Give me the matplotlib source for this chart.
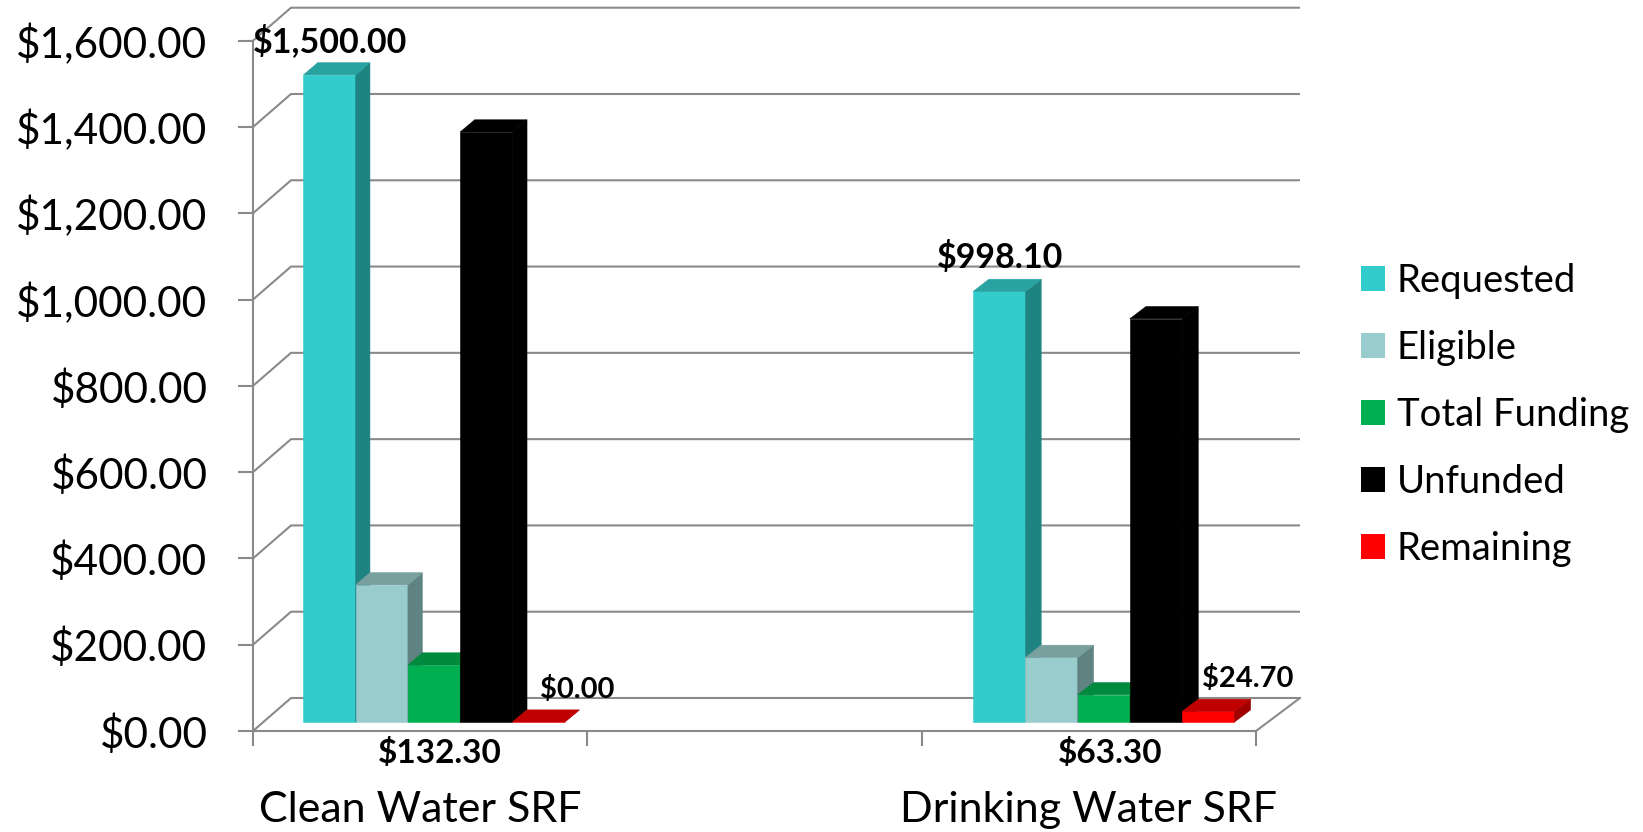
import math
import matplotlib
matplotlib.use("Agg")
import matplotlib.pyplot as plt
from matplotlib.patches import Polygon, Patch

plt.rcParams['font.family'] = ['Lato', 'DejaVu Sans']

# ---------------- data ----------------
categories = ["Clean Water SRF", "", "Drinking Water SRF"]
series = ["Requested", "Eligible", "Total Funding", "Unfunded", "Remaining"]
requested = [1500.00, math.nan, 998.10]
eligible = [318.00, math.nan, 150.00]
total_funding = [132.30, math.nan, 63.30]
unfunded = [1367.70, math.nan, 934.80]
remaining = [0.00, math.nan, 24.70]
yticks = [0, 200, 400, 600, 800, 1000, 1200, 1400, 1600]

values = [requested, eligible, total_funding, unfunded, remaining]
labelled = {"Requested", "Total Funding", "Remaining"}

# (front, top, side) colours
colors = {
    "Requested": ("#33CCCC", "#29A3A2", "#1F8382"),
    "Eligible": ("#99CCCC", "#77A09F", "#5F8382"),
    "Total Funding": ("#00B050", "#008A3E", "#006F33"),
    "Unfunded": ("#000000", "#000000", "#000000"),
    "Remaining": ("#FF0000", "#C00000", "#A00000"),
}
# label offsets (pixels) from top-front centre of bar
label_style = {
    "Requested": dict(dx=1, dy=34, size=24.5, base=False),
    "Total Funding": dict(dx=6, dy=-31, size=24, base=True),
    "Remaining": dict(dx=39, dy=33, size=21, base=False),
}

W, H = 1643, 832
fig = plt.figure(figsize=(W / 100, H / 100), dpi=100)
x_left, x_right, y_zero, y_top = 253, 1256, 731, 40.7
ax = fig.add_axes([x_left / W, (H - y_zero) / H,
                   (x_right - x_left) / W, (y_zero - y_top) / H])
ax.set_xlim(0, 3)
ax.set_ylim(0, 1600)

px_x = (x_right - x_left) / 3.0
px_y = (y_zero - y_top) / 1600.0
DXL = 38 / px_x
DXR = 44 / px_x
DY = 33 / px_y


def shift(x, y, f):
    dx = (DXL + (DXR - DXL) * x / 3.0) * f
    return (x + dx, y + DY * f)


grid_c = "#8A8A8A"
glw = 1.5
# walls
for v in yticks:
    p0 = (0, v)
    p1 = shift(0, v, 1)
    p2 = shift(3, v, 1)
    ax.plot([p0[0], p1[0], p2[0]], [p0[1], p1[1], p2[1]], color=grid_c,
            lw=glw, clip_on=False, zorder=1, solid_capstyle='butt')
# floor right edge
q1 = shift(3, 0, 1)
ax.plot([3, q1[0]], [0, q1[1]], color=grid_c, lw=glw, clip_on=False, zorder=1)

# bars
f0, f1 = 0.27, 0.64
start, bw = 0.12, 0.156
z = 3
for k in range(len(categories)):
    for i, s in enumerate(series):
        v = values[i][k]
        if v is None or (isinstance(v, float) and math.isnan(v)):
            continue
        x0 = k + start + i * bw
        x1 = x0 + bw
        cf, ct, cs = colors[s]
        front = [shift(x0, 0, f0), shift(x1, 0, f0), shift(x1, v, f0), shift(x0, v, f0)]
        top = [shift(x0, v, f0), shift(x1, v, f0), shift(x1, v, f1), shift(x0, v, f1)]
        side = [shift(x1, 0, f0), shift(x1, 0, f1), shift(x1, v, f1), shift(x1, v, f0)]
        for poly, c in ((front, cf), (side, cs), (top, ct)):
            ax.add_patch(Polygon(poly, closed=True, facecolor=c, edgecolor=c,
                                 lw=0.4, clip_on=False, zorder=z))
            z += 0.01
        if s in labelled:
            st = label_style[s]
            ax_x, ax_y = shift((x0 + x1) / 2, 0 if st["base"] else v, f0)
            ax.annotate(f"${v:,.2f}", (ax_x, ax_y), xytext=(st["dx"], st["dy"]),
                        textcoords="offset pixels", ha="center", va="center",
                        fontsize=st["size"], fontweight="bold", color="black",
                        annotation_clip=False, zorder=50)

# axes styling
for sp in ("top", "right"):
    ax.spines[sp].set_visible(False)
for sp in ("left", "bottom"):
    ax.spines[sp].set_color(grid_c)
    ax.spines[sp].set_linewidth(glw)
    ax.spines[sp].set_zorder(2)

ax.set_yticks(yticks)
ax.set_yticklabels([f"${v:,.2f}" for v in yticks])
ax.tick_params(axis="y", direction="out", length=10.8, width=glw, color=grid_c,
               pad=22, labelsize=30.5, labelcolor="black")

ax.set_xticks([0, 1, 2, 3])
ax.set_xticklabels([])
ax.set_xticks([0.5, 1.5, 2.5], minor=True)
ax.set_xticklabels(categories, minor=True)
ax.tick_params(axis="x", which="major", direction="out", length=10.8, width=glw,
               color=grid_c)
ax.tick_params(axis="x", which="minor", length=0, pad=43, labelsize=31,
               labelcolor="black")
ax.set_facecolor("none")

handles = [Patch(facecolor=colors[s][0], edgecolor="none") for s in series]
fig.legend(handles, series, loc="upper left",
           bbox_to_anchor=(1361 / W, (H - 263) / H), frameon=False,
           fontsize=27.5, handlelength=0.63, handleheight=0.63,
           handletextpad=0.3, labelspacing=0.81, borderpad=0,
           borderaxespad=0)

fig.savefig("out.png", dpi=100, facecolor="white")
